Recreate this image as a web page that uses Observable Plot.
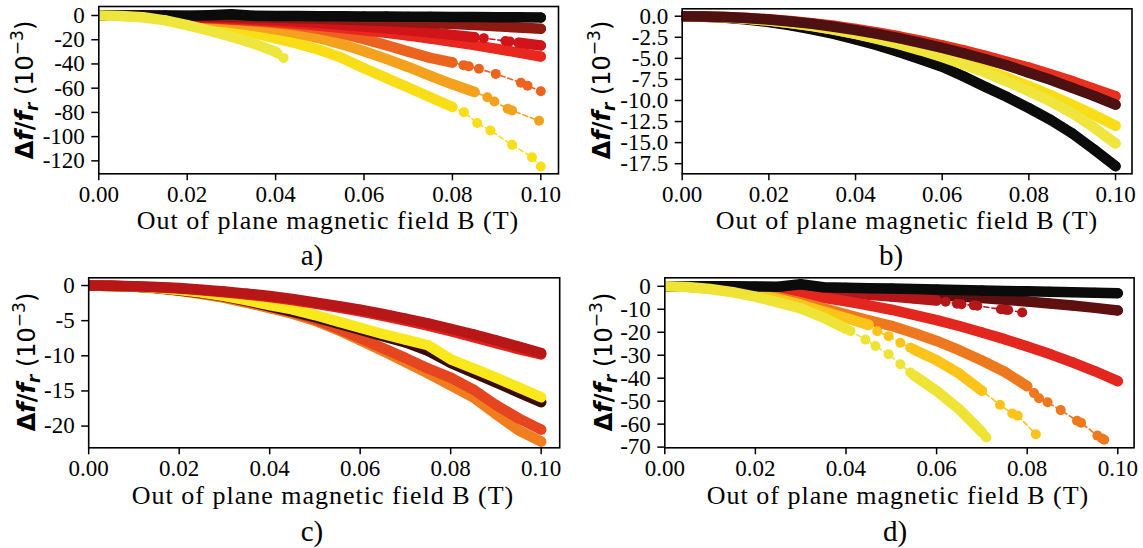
<!DOCTYPE html>
<html><head><meta charset="utf-8">
<script src="https://cdn.jsdelivr.net/npm/d3@7"></script>
<script src="https://cdn.jsdelivr.net/npm/@observablehq/plot@0.6"></script>
<style>
body{margin:0;background:#fff;}
#fig{position:relative;width:1143px;height:548px;overflow:hidden;background:#fff;}
.panel{position:absolute;}
.panel svg text{font-family:"Liberation Serif","Times New Roman",serif !important;}
.xlab{position:absolute;font-family:"Liberation Serif";font-size:26px;line-height:1;letter-spacing:1px;white-space:nowrap;transform:translate(-50%,-50%);color:#000;}
.cap{position:absolute;font-family:"Liberation Serif";font-size:29px;line-height:1;white-space:nowrap;transform:translate(-50%,-50%);color:#000;}
#over{position:absolute;left:0;top:0;pointer-events:none;}
</style></head><body><div id="fig"></div>
<script>
// ---- shared field grid (T) and tick labels ----
const fieldGrid = [0,0.005,0.01,0.015,0.02,0.025,0.03,0.035,0.04,0.045,0.05,0.055,0.06,0.065,0.07,0.075,0.08,0.085,0.09,0.095,0.1];
const xTicks = [0,0.02,0.04,0.06,0.08,0.1];
const aTicks = [0,-20,-40,-60,-80,-100,-120];
const bTicks = [0,-2.5,-5,-7.5,-10,-12.5,-15,-17.5];
const cTicks = [0,-5,-10,-15,-20];
const dTicks = [0,-10,-20,-30,-40,-50,-60,-70];
const xLabel = "Out of plane magnetic field B (T)";
const captions = ["a)","b)","c)","d)"];

// ---- panel a (Δf/f_r, 10^-3) ----
const aBlack     = [0,0,-0.1,-0.1,-0.2,0.2,1.0,-0.2,-0.4,-0.5,-0.6,-0.7,-0.8,-0.9,-1.0,-1.1,-1.2,-1.3,-1.4,-1.5,-1.6];
const aMaroon    = [0,-0.03,-0.11,-0.25,-0.44,-0.69,-1.0,-1.35,-1.76,-2.23,-2.75,-3.3,-3.95,-4.6,-5.4,-6.2,-7.0,-7.9,-8.9,-9.9,-11.0];
const aCrimson   = [0,-0.06,-0.25,-0.56,-1.0,-1.56,-2.25,-3.06,-4.0,-5.06,-6.25,-7.56,-9.0,-10.56,-12.25,-14.06,-16.0,-18.0,null,-22.5,-24.8];
const aCrimsonTailB = [0.0871,0.092,0.093];
const aCrimsonTailV = [-18.7,-21.0,-21.5];
const aRed       = [0,-0.09,-0.34,-0.76,-1.36,-2.12,-3.05,-4.15,-5.42,-6.87,-8.5,-10.3,-12.2,-14.3,-16.6,-19.1,-21.7,-24.5,-27.5,-30.6,-33.9];
const aOrangeRed = [0,-0.1,-0.4,-0.9,-1.6,-2.5,-3.5,-4.8,-6.3,-8.3,-11.2,-15.0,-19.5,-24.5,-29.8,-35.0,-38.8,null,null,null,null];
const aOrangeRedTailB = [0.0825,0.0837,0.086,0.0898,0.0955,0.097,0.1];
const aOrangeRedTailV = [-41,-42,-44,-48.2,-55.5,-58,-62.5];
const aOrange    = [0,-0.2,-0.7,-1.5,-2.7,-4.2,-6.0,-8.5,-11.5,-14.8,-18.8,-23.8,-29.5,-35.8,-42.5,-49.8,-56.8,-63.2,null,null,null];
const aOrangeTailB = [0.0879,0.0895,0.0925,0.0935,0.0996];
const aOrangeTailV = [-67.5,-71,-77,-78.5,-86.9];
const aYellow    = [0,-0.3,-1.2,-2.8,-5.0,-7.6,-10.8,-14.5,-18.8,-23.2,-28.5,-35.0,-43.5,-51.5,-59.5,-67.5,-75.5,null,null,null,null];
const aYellowTailB = [0.0826,0.0856,0.0886,0.0935,0.098,0.1];
const aYellowTailV = [-79.8,-88.7,-95,-106.8,-117,-124.7];
const aPale      = [0,-0.4,-1.5,-4.0,-8.0,-12.5,-17.5,-23.0,-30.0,null,null,null,null,null,null,null,null,null,null,null,null];
const aPaleTailB = [0.0405,0.0418];
const aPaleTailV = [-31.5,-35];

// ---- panel b ----
const bBlack  = [0,-0.05,-0.17,-0.38,-0.68,-1.08,-1.55,-2.1,-2.75,-3.45,-4.25,-5.1,-6.0,-7.15,-8.4,-9.6,-10.9,-12.3,-13.9,-15.8,-17.8];
const bMaroon = [0,-0.03,-0.1,-0.22,-0.4,-0.62,-0.9,-1.25,-1.65,-2.1,-2.6,-3.15,-3.75,-4.4,-5.1,-5.85,-6.7,-7.55,-8.5,-9.45,-10.5];
const bRed    = [0,-0.02,-0.09,-0.2,-0.36,-0.57,-0.83,-1.14,-1.5,-1.92,-2.38,-2.9,-3.45,-4.05,-4.7,-5.4,-6.1,-6.9,-7.7,-8.6,-9.5];
const bYellow = [0,-0.04,-0.13,-0.3,-0.52,-0.8,-1.15,-1.58,-2.08,-2.63,-3.25,-3.93,-4.68,-5.5,-6.37,-7.3,-8.3,-9.35,-10.5,-11.7,-13.0];
const bPale   = [0,-0.04,-0.13,-0.3,-0.52,-0.8,-1.16,-1.6,-2.1,-2.68,-3.33,-4.05,-4.85,-5.73,-6.7,-7.75,-8.9,-10.1,-11.5,-13.2,-15.1];

// ---- panel c ----
const cCrimson   = [0,-0.02,-0.1,-0.2,-0.35,-0.6,-0.85,-1.15,-1.5,-1.9,-2.4,-2.9,-3.45,-4.05,-4.7,-5.4,-6.15,-6.95,-7.8,-8.7,-9.6];
const cRed       = [0,-0.03,-0.12,-0.25,-0.42,-0.68,-0.95,-1.27,-1.65,-2.07,-2.57,-3.1,-3.67,-4.3,-4.98,-5.7,-6.5,-7.35,-8.2,-9.05,-9.8];
const cBlack     = [0,-0.05,-0.15,-0.37,-0.68,-1.05,-1.55,-2.2,-2.95,-3.7,-4.5,-5.4,-6.3,-7.2,-8.1,-9.3,-11.0,-12.4,-13.8,-15.2,-16.6];
const cYellow    = [0,-0.05,-0.15,-0.35,-0.65,-1.0,-1.5,-2.1,-2.8,-3.4,-4.2,-5.1,-6.0,-6.9,-7.7,-8.5,-10.5,-11.8,-13.1,-14.5,-15.9];
const cOrangeRed = [0,-0.05,-0.15,-0.35,-0.7,-1.1,-1.6,-2.3,-3.0,-3.8,-4.8,-6.1,-7.5,-8.9,-10.3,-11.8,-13.1,-14.8,-17.0,-18.9,-20.5];
const cOrange    = [0,-0.05,-0.17,-0.4,-0.75,-1.2,-1.75,-2.45,-3.2,-4.0,-5.0,-6.3,-7.8,-9.3,-10.9,-12.5,-14.2,-15.9,-18.3,-20.6,-22.2];

// ---- panel d ----
const dBlack   = [0,0,0,0,-0.1,-0.2,0.9,-0.4,-0.6,-0.8,-1.0,-1.2,-1.4,-1.6,-1.8,-2.0,-2.2,-2.4,-2.6,-2.8,-3.0];
const dMaroon  = [0,0,-0.1,-0.2,-0.4,-0.65,-0.95,-1.3,-1.7,-2.1,-2.6,-3.15,-3.75,-4.4,-5.1,-5.85,-6.65,-7.5,-8.4,-9.4,-10.5];
const dCrimson = [0,-0.05,-0.2,-0.4,-0.8,-1.2,-1.7,-2.3,-3.0,-3.7,-4.5,-5.3,-6.2,null,null,null,null,null,null,null,null];
const dCrimsonTailB = [0.062,0.0645,0.0655,0.0682,0.069,0.0742,0.0752,0.0758,0.0789];
const dCrimsonTailV = [-6.7,-7.6,-7.8,-8.3,-8.5,-10.0,-10.2,-10.3,-11.4];
const dRed     = [0,-0.1,-0.4,-0.9,-1.6,-2.6,-3.7,-5.0,-6.5,-8.3,-10.2,-12.4,-14.7,-17.3,-20.1,-23.0,-26.2,-29.5,-33.1,-37.0,-41.3];
const dOrange  = [0,-0.2,-0.7,-1.6,-3.0,-4.8,-7.0,-9.5,-12.2,-14.8,-17.2,-20.3,-23.8,-27.8,-32.3,-37.2,-43.5,null,null,null,null];
const dOrangeTailB = [0.0815,0.0826,0.0845,0.0874,0.091,0.0919,0.0955,0.0965,0.097];
const dOrangeTailV = [-46.5,-48.7,-50.5,-53.9,-58.5,-59.4,-65,-66.2,-66.8];
const dGold    = [0,-0.25,-1.0,-2.1,-3.6,-5.5,-8.0,-11.0,-13.8,-16.8,null,-27.5,-32.2,-38.0,-45.5,null,null,null,null,null,null];
const dGoldTailB = [0.0469,0.0494,0.052,0.0542,0.074,0.0767,0.0779,0.0819];
const dGoldTailV = [-19.6,-21.7,-24.6,-26.7,-51.6,-55.4,-56.3,-64.4];
const dPale    = [0,-0.3,-1.2,-2.6,-4.5,-7.0,-9.6,-13.6,-18.5,null,null,-38.8,-45.5,-53.5,-63.5,null,null,null,null,null,null];
const dPaleTailB = [0.041,0.0443,0.0465,0.0494,0.052,0.0542,0.0708,0.071];
const dPaleTailV = [-19.5,-23.2,-26,-29.6,-33.9,-37.5,-65.4,-65.8];

// ---- build ----
const intFmt = v => (v < 0 ? "-" : "") + Math.abs(v);
const oneFmt = v => (v < 0 ? "-" : "") + Math.abs(v).toFixed(1);
const S = (v, c, tb, tv) => ({v, c, tb: tb || [], tv: tv || []});
const SERIF = "'Liberation Serif','Times New Roman',serif";

const panels = [
  {left:0, top:0, width:570, height:274, ml:98.3, mr:12, mt:6, mb:100.7, xd:[0,0.104], yd:[-130.7,7.43],
   ticks:aTicks, fmt:intFmt, xl:[328,221], cap:[312,255], yl:[25,90],
   series:[S(aYellow,"#f9de17",aYellowTailB,aYellowTailV), S(aOrange,"#f4a11d",aOrangeTailB,aOrangeTailV),
           S(aOrangeRed,"#ec6320",aOrangeRedTailB,aOrangeRedTailV), S(aRed,"#e8281f"),
           S(aCrimson,"#d0141a",aCrimsonTailB,aCrimsonTailV), S(aMaroon,"#8e1a12"), S(aBlack,"#0b0b0b"),
           S(aPale,"#efe63d",aPaleTailB,aPaleTailV)]},
  {left:571, top:0, width:572, height:274, ml:110.7, mr:11.5, mt:8.3, mb:100.7, xd:[0,0.1038], yd:[-18.7,0.88],
   ticks:bTicks, fmt:oneFmt, xl:[907,221], cap:[891,255], yl:[602,90],
   series:[S(bBlack,"#0b0b0b"), S(bYellow,"#f9dd16"), S(bPale,"#efe53c"), S(bRed,"#e8301f"), S(bMaroon,"#4d1111")]},
  {left:0, top:274, width:570, height:274, ml:88.2, mr:10.8, mt:3.3, mb:100.7, xd:[0,0.1041], yd:[-23.09,1.1],
   ticks:cTicks, fmt:intFmt, xl:[323,496], cap:[312,531], yl:[27,362],
   series:[S(cOrange,"#f07d1e"), S(cOrangeRed,"#e5461f"), S(cBlack,"#3a0b0b"), S(cYellow,"#f9e81b"),
           S(cRed,"#e3231d"), S(cCrimson,"#b81717")]},
  {left:571, top:274, width:572, height:274, ml:93.3, mr:9.4, mt:3.3, mb:100.7, xd:[0,0.1036], yd:[-70.3,3.7],
   ticks:dTicks, fmt:intFmt, xl:[898,496], cap:[895,531], yl:[604,362],
   series:[S(dMaroon,"#5e1010"), S(dCrimson,"#b4171a",dCrimsonTailB,dCrimsonTailV), S(dRed,"#e3261e"),
           S(dOrange,"#ee781e",dOrangeTailB,dOrangeTailV), S(dGold,"#fcc419",dGoldTailB,dGoldTailV),
           S(dBlack,"#0b0b0b"), S(dPale,"#efe336",dPaleTailB,dPaleTailV)]}
];

const fig = document.getElementById("fig");
panels.forEach((p, k) => {
  const marks = [];
  for (const s of p.series) {
    const band = fieldGrid.map((b, i) => ({B: b, v: s.v[i]}));
    const tail = s.tb.map((b, i) => ({B: b, v: s.tv[i]}));
    const all = band.filter(d => d.v != null).concat(tail).sort((a, b) => a.B - b.B);
    marks.push(Plot.line(all, {x:"B", y:"v", stroke:s.c, strokeWidth:1.6, strokeDasharray:"5,3", clip:true}));
    marks.push(Plot.line(band, {x:"B", y:"v", stroke:s.c, strokeWidth:10.5, strokeLinecap:"round", strokeLinejoin:"round", clip:true}));
    marks.push(Plot.dot(all, {x:"B", y:"v", fill:s.c, r:5, clip:true}));
  }
  marks.push(Plot.axisX(xTicks, {tickFormat: d => d.toFixed(2), tickSize:7, tickPadding:5, fontSize:23, fontFamily:SERIF, strokeWidth:1.5, label:null}));
  marks.push(Plot.axisY(p.ticks, {tickFormat: p.fmt, tickSize:7, tickPadding:7, fontSize:23, fontFamily:SERIF, strokeWidth:1.5, label:null}));
  marks.push(Plot.frame({stroke:"#000", strokeWidth:1.6}));
  const svg = Plot.plot({
    width:p.width, height:p.height,
    marginLeft:p.ml, marginRight:p.mr, marginTop:p.mt, marginBottom:p.mb,
    x:{domain:p.xd}, y:{domain:p.yd},
    style:{background:"transparent", fontFamily:SERIF, fontSize:"23px", color:"#000", overflow:"visible"},
    marks
  });
  svg.querySelectorAll("text").forEach(t => { t.style.fontFamily = SERIF; });
  const wrap = document.createElement("div");
  wrap.className = "panel";
  wrap.style.left = p.left + "px"; wrap.style.top = p.top + "px";
  wrap.appendChild(svg);
  fig.appendChild(wrap);

  const xl = document.createElement("div");
  xl.className = "xlab"; xl.textContent = xLabel;
  xl.style.left = p.xl[0] + "px"; xl.style.top = p.xl[1] + "px";
  fig.appendChild(xl);

  const cap = document.createElement("div");
  cap.className = "cap"; cap.textContent = captions[k];
  cap.style.left = p.cap[0] + "px"; cap.style.top = p.cap[1] + "px";
  fig.appendChild(cap);
});

// y-axis labels as rotated SVG text
const over = d3.select(fig).append("svg").attr("id","over").attr("width",1143).attr("height",548);
panels.forEach(p => {
  const t = over.append("text")
    .attr("transform", `translate(${p.yl[0]},${p.yl[1]}) rotate(-90)`)
    .attr("text-anchor","middle").attr("dy","0.35em")
    .style("font-family","'DejaVu Sans'").style("font-size","24px").attr("fill","#000");
  t.append("tspan").attr("font-weight","bold").text("Δ");
  t.append("tspan").attr("font-weight","bold").attr("font-style","italic").text("f");
  t.append("tspan").attr("font-weight","bold").text("/");
  t.append("tspan").attr("font-weight","bold").attr("font-style","italic").text("f");
  t.append("tspan").attr("font-weight","bold").attr("font-style","italic").attr("font-size","17px").attr("dy","5").text("r");
  t.append("tspan").attr("dy","-5").text(" (10");
  t.append("tspan").attr("font-size","17px").attr("dy","-10").text("−3");
  t.append("tspan").attr("dy","10").text(")");
});
</script></body></html>
